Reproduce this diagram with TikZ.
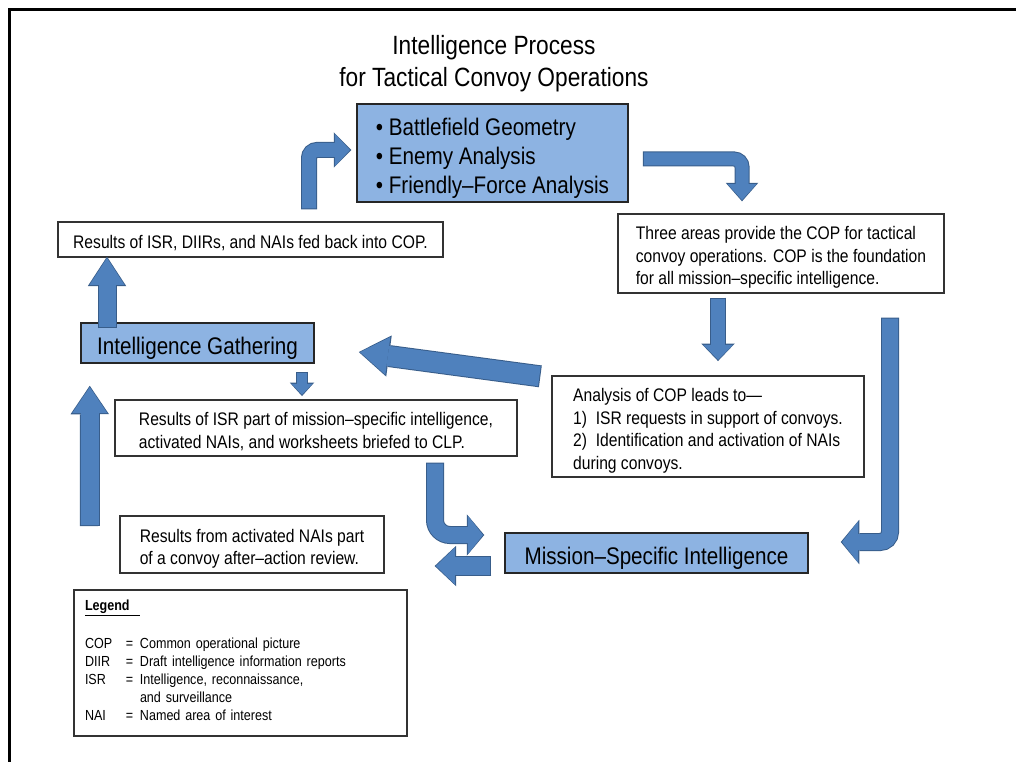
\documentclass[tikz,border=0pt]{standalone}
\usepackage{fontspec}
\setmainfont{Liberation Sans}[FakeStretch=0.86]
\usepackage{xcolor}
\usepackage{tikz}
\usetikzlibrary{arrows.meta}

\definecolor{boxblue}{HTML}{8DB3E2}
\definecolor{arrowfill}{HTML}{4F81BD}
\definecolor{arrowline}{HTML}{385D8A}

% line box as a word processor sets it: tall first line, deep last line
\newcommand{\wpstrut}{\rule{0pt}{1.2em}}
\newcommand{\wpdepth}{\rule[-0.22em]{0pt}{0pt}}

% block arrow: [corner radius]{shaft}{head width}{head length}{path}
\newcommand{\blockarrow}[5][9]{%
  \pgfmathsetmacro{\outshaft}{#2+2}%
  \pgfmathsetmacro{\outwidth}{#3+3.5}%
  \pgfmathsetmacro{\outlength}{#4+2.5}%
  \draw[arrowline, line width=\outshaft pt, rounded corners=#1pt,
    -{Triangle[width=\outwidth pt, length=\outlength pt, line width'=0pt]}] #5;
  \draw[arrowfill, line width=#2pt, rounded corners=#1pt, shorten >=1.3pt, shorten <=1pt,
    -{Triangle[width=#3pt, length=#4pt, line width'=0pt]}] #5;
}

\begin{document}
\begin{tikzpicture}[x=1pt, y=-1pt,
  every node/.style = {inner sep=0pt, font=\fontsize{18.2}{22.5}\selectfont},
  whitebox/.style = {draw=black!80, line width=1.3pt, fill=white, align=left},
  bluebox/.style = {draw=black!85, line width=1.5pt, fill=boxblue, align=center,
    font=\fontsize{24}{29}\selectfont}
  ]
  \useasboundingbox (0,0) rectangle (1016,762);
  \draw[line width=3] (1016,10) -| (9,762);

  \node[align=center, font=\fontsize{26.4}{32}\selectfont] (title) at (494,64)
    {Intelligence Process\\for Tactical Convoy Operations};

  \node[bluebox, minimum width=271, minimum height=98, align=left] (geo) at (492.5,153)
    {\wpstrut\textbullet\ Battlefield Geometry\\\textbullet\ Enemy Analysis\\\textbullet\ Friendly–Force Analysis\wpdepth};
  \node[whitebox, minimum width=385, minimum height=35] (fedback) at (250.5,239.5)
    {\wpstrut Results of ISR, DIIRs, and NAIs fed back into COP.\wpdepth};
  \node[whitebox, minimum width=326, minimum height=79] (three) at (781,253.5)
    {\wpstrut Three areas provide the COP for tactical\\convoy operations. COP is the foundation\\for all mission–specific intelligence.\wpdepth};
  \node[whitebox, minimum width=312, minimum height=101] (analysis) at (708,426.5)
    {\wpstrut Analysis of COP leads to—\\1)\ \ ISR requests in support of convoys.\\2)\ \ Identification and activation of\ NAIs\\during convoys.\wpdepth};
  \node[bluebox, minimum width=233, minimum height=40] (gather) at (197.5,343)
    {\wpstrut Intelligence Gathering\wpdepth};
  \node[whitebox, minimum width=402, minimum height=56] (isrpart) at (316,428)
    {\wpstrut Results of ISR part of mission–specific intelligence,\\activated NAIs, and worksheets briefed to CLP.\wpdepth};
  \node[bluebox, minimum width=303, minimum height=40] (mission) at (656.5,553)
    {\wpstrut Mission–Specific Intelligence\wpdepth};
  \node[whitebox, minimum width=264, minimum height=57] (aar) at (252,544.5)
    {\wpstrut Results from activated NAIs part\\of a convoy after–action review.\wpdepth};
  \node[whitebox, minimum width=333, minimum height=146, text width=311, inner xsep=11pt,
    font=\fontsize{14.6}{18}\selectfont] (legend) at (240.5,663)
    {\underline{\textbf{Legend}\hspace{10pt}}\\[20pt]
     \makebox[41pt][l]{COP}\makebox[14pt][l]{=}Common operational picture\\
     \makebox[41pt][l]{DIIR}\makebox[14pt][l]{=}Draft intelligence information reports\\
     \makebox[41pt][l]{ISR}\makebox[14pt][l]{=}Intelligence, reconnaissance,\\
     \hspace*{55pt}and surveillance\\
     \makebox[41pt][l]{NAI}\makebox[14pt][l]{=}Named area of interest\rule[-5pt]{0pt}{1pt}};

  % loop arrows
  \blockarrow[8]{14}{32}{15}{([xshift=58.5,yshift=12]fedback.north) |- ([xshift=-5,yshift=3]geo.west)}
  \blockarrow[8]{13}{29}{16}{([xshift=14,yshift=-6]geo.east) -| ([xshift=-39,yshift=12]three.north)}
  \blockarrow{14}{30}{15}{([xshift=-63,yshift=-4]three.south) -- ([xshift=10,yshift=14.3]analysis.north)}
  \blockarrow[10]{16}{41}{16}{([xshift=109,yshift=-24]three.south) |- ([xshift=32,yshift=11]mission.east)}
  \blockarrow{20}{38}{28}{([xshift=-11,yshift=-1]analysis.north west) -- ([xshift=44,yshift=-9]gather.east)}
  \blockarrow{17}{35}{27}{([xshift=-90.5,yshift=-6]gather.north) -- ([xshift=-143.5,yshift=1]fedback.south)}
  \blockarrow{10}{21}{11}{([xshift=104.5,yshift=-8]gather.south) -- ([xshift=-14,yshift=3.3]isrpart.north)}
  \blockarrow{18}{35}{26}{([xshift=-29.5,yshift=18.5]aar.west) -- ([xshift=9.5,yshift=-22]gather.south west)}
  \blockarrow[15]{16}{38}{15}{([xshift=119,yshift=-6]isrpart.south) |- ([xshift=-20,yshift=18]mission.west)}
  \blockarrow{18}{37}{19}{([xshift=-13,yshift=-13]mission.west) -- ([xshift=50,yshift=-21.5]aar.east)}
\end{tikzpicture}
\end{document}
